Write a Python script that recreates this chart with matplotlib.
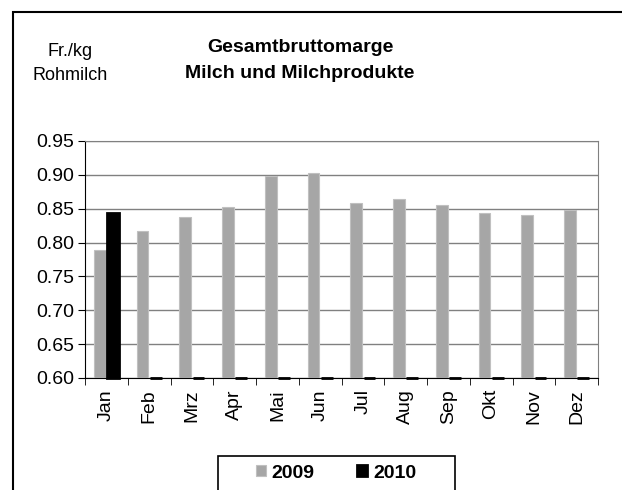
import numpy as np
import matplotlib
matplotlib.use("Agg")
import matplotlib.pyplot as plt
from matplotlib.patches import Rectangle

months = ["Jan", "Feb", "Mrz", "Apr", "Mai", "Jun", "Jul", "Aug", "Sep", "Okt", "Nov", "Dez"]
values_2009 = [0.789, 0.817, 0.838, 0.853, 0.898, 0.903, 0.858, 0.864, 0.855, 0.843, 0.840, 0.848]
values_2010 = [0.843, 0, 0, 0, 0, 0, 0, 0, 0, 0, 0, 0]
yticks = [0.60, 0.65, 0.70, 0.75, 0.80, 0.85, 0.90, 0.95]

plt.rcParams["font.family"] = ["Liberation Sans", "DejaVu Sans"]

fig = plt.figure(figsize=(6.22, 4.9), dpi=100)
ax = fig.add_axes([85 / 622, 1 - 378 / 490, 513 / 622, 237 / 490])

ymin, ymax = 0.60, 0.95
x = np.arange(len(months))
w = 0.28
off = 0.155

# zero values sit on the axis floor as flat bars
h09 = np.maximum(values_2009, ymin) - ymin
h10 = np.maximum(values_2010, ymin) - ymin
ax.bar(x - off, h09, w, bottom=ymin, color="#a6a6a6", edgecolor="#c0c0c0",
       linewidth=0.8, label="2009", zorder=3)
ax.bar(x + off, h10, w, bottom=ymin, color="black", edgecolor="black",
       linewidth=2, label="2010", zorder=3, clip_on=False)

ax.set_ylim(ymin, ymax)
ax.set_xlim(-0.5, len(months) - 0.5)
ax.set_yticks(yticks)
ax.set_yticklabels([f"{t:.2f}" for t in yticks], fontsize=14)
ax.yaxis.grid(True, color="#808080", linewidth=1)
ax.set_axisbelow(True)

ax.set_xticks(x)
ax.set_xticklabels(months, rotation=90, fontsize=14)
ax.set_xticks(np.arange(-0.5, len(months)), minor=True)
ax.tick_params(axis="x", which="major", length=0, pad=8)
ax.tick_params(axis="x", which="minor", length=5, direction="out", color="black")
ax.tick_params(axis="y", length=5, direction="out", color="black", pad=3)

ax.spines["left"].set_color("black")
ax.spines["bottom"].set_color("black")
ax.spines["top"].set_color("#808080")
ax.spines["right"].set_color("#808080")

fig.text(300 / 622, 1 - 48 / 490, "Gesamtbruttomarge", ha="center", va="center",
         fontsize=14, fontweight="bold")
fig.text(300 / 622, 1 - 73 / 490, "Milch und Milchprodukte", ha="center", va="center",
         fontsize=14, fontweight="bold")
fig.text(70 / 622, 1 - 52 / 490, "Fr./kg", ha="center", va="center", fontsize=13)
fig.text(70 / 622, 1 - 76 / 490, "Rohmilch", ha="center", va="center", fontsize=13)

# legend without its own frame, boxed by a rectangle running off the bottom
fig.legend(loc="center", bbox_to_anchor=(336 / 622, 1 - 473 / 490),
           ncol=2, frameon=False, prop={"weight": "bold", "size": 14},
           handlelength=0.5, handleheight=0.5, handletextpad=0.3,
           columnspacing=2.2)
fig.patches.append(Rectangle((218 / 622, -0.05), 237 / 622, 0.05 + 1 - 456 / 490,
                             transform=fig.transFigure, fill=False,
                             edgecolor="black", linewidth=1.2))

fig.patches.append(Rectangle((13 / 622, -0.1), 1.1, 1 - 12 / 490 + 0.1,
                             transform=fig.transFigure, fill=False,
                             edgecolor="black", linewidth=1.5))

fig.savefig("out.png", dpi=100)
